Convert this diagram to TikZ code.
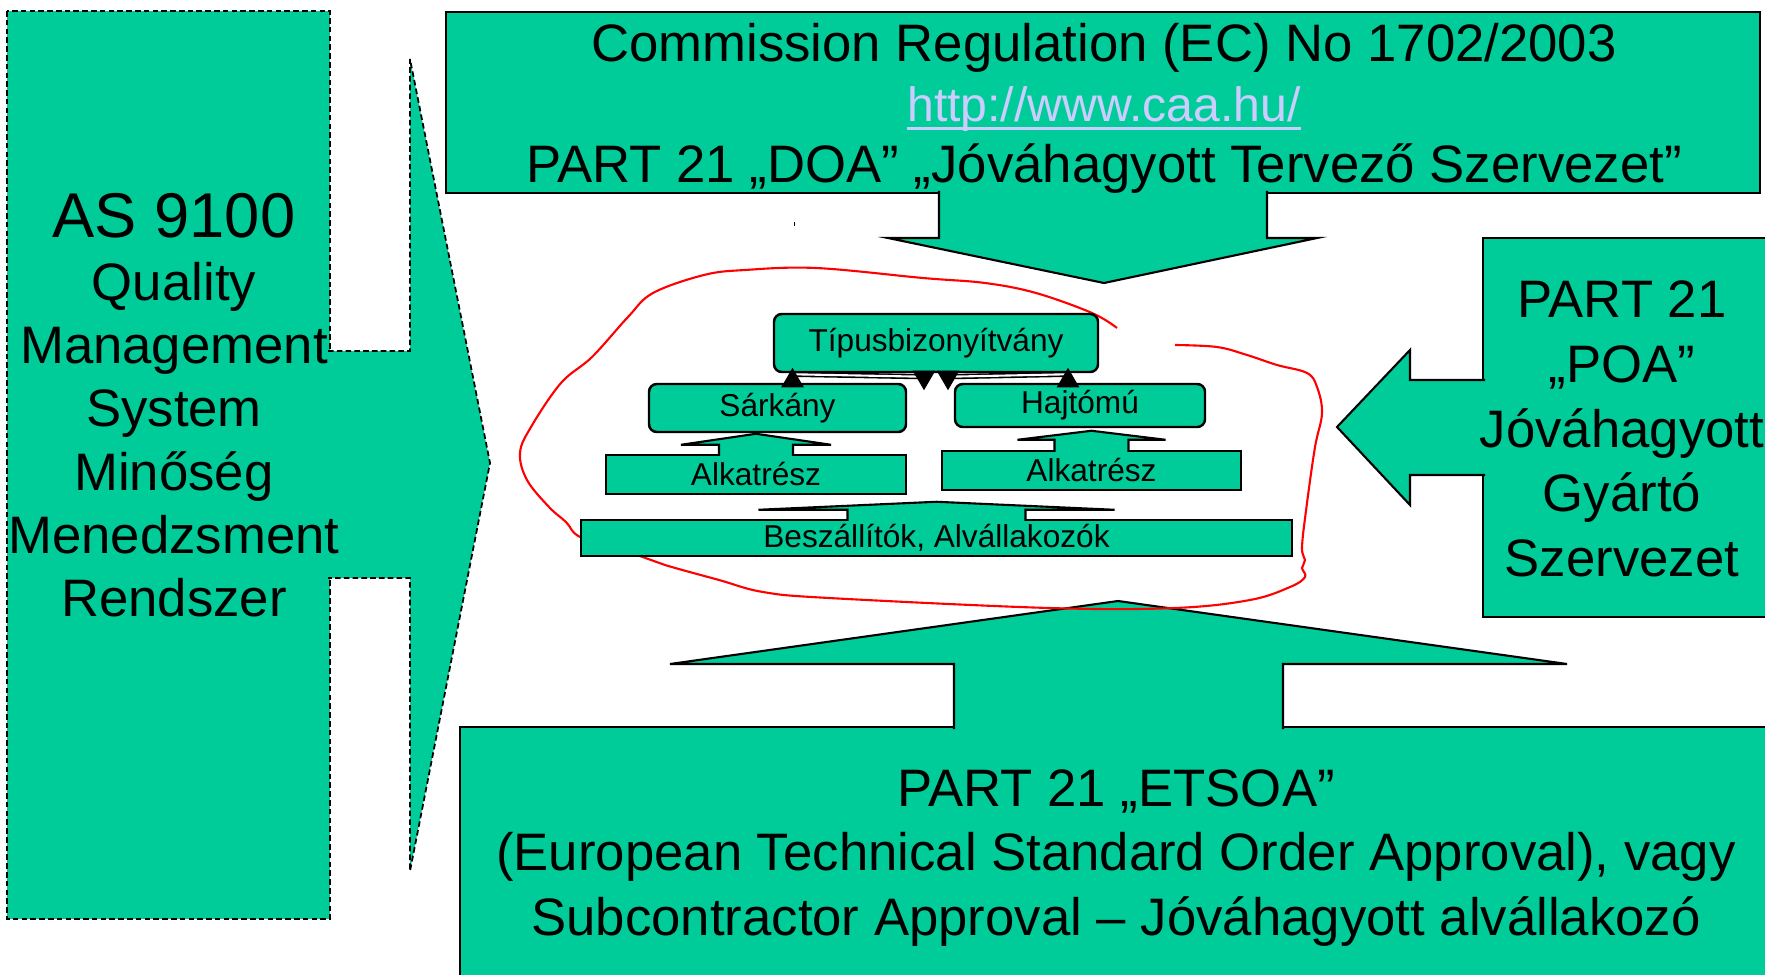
\documentclass[tikz,border=0pt]{standalone}
\usepackage{fontspec}
\setmainfont{Liberation Sans}
\usetikzlibrary{arrows.meta,calc}
\definecolor{pgreen}{HTML}{00CC99}
\definecolor{linkcol}{HTML}{CCCCFF}
\newcommand\weblink[1]{\setbox0\hbox{#1}\rlap{\rule[-2.4pt]{\wd0}{0.8pt}}\box0}

\begin{document}
\begin{tikzpicture}[x=0.1mm,y=-0.1mm,
    bigbox/.style={draw,fill=pgreen,line width=0.6pt},
    qmsline/.style={draw,fill=pgreen,line width=0.5pt,dash pattern=on 1.6pt off 0.9pt},
    lbl/.style={align=center,font=\fontsize{15}{18}\selectfont},
    roundbox/.style={draw,fill=pgreen,line width=0.7pt,rounded corners=2.2pt,inner sep=0pt,font=\fontsize{9}{11}\selectfont},
    partbox/.style={draw,fill=pgreen,line width=0.7pt,inner sep=0pt,font=\fontsize{9}{11}\selectfont},
    blockarrow/.style={draw,fill=pgreen,line width=0.6pt},
    link/.style={draw=black,double=white,line width=0.45pt,double distance=0.6pt,
      {Triangle[length=5.6pt,width=6.4pt]}-{Triangle[length=5.6pt,width=6.4pt]}},
    redline/.style={red,line width=0.6pt}]
\useasboundingbox (0,0) rectangle (1765,975);

% AS 9100 box with its arrow
\draw[qmsline] (7,11) rectangle (330,919);
\draw[qmsline] (328,351) -- (410,351) -- (410,59) -- (490,463) -- (410,871) -- (410,578) -- (328,578);

% DOA
\draw[bigbox] (446,12) rectangle (1760,193);
\draw[bigbox] (939,191) -- (939,238) -- (888,238) -- (1104,283) -- (1317,238) -- (1267,238) -- (1267,191);

% POA
\draw[bigbox] (1483,238) rectangle (1780,617);
\draw[bigbox] (1485,380) -- (1410,380) -- (1410,350) -- (1337,427) -- (1410,505) -- (1410,475) -- (1485,475);

% ETSOA
\draw[bigbox] (460,727) rectangle (1780,990);
\draw[bigbox] (954,729) -- (954,664) -- (670,664) -- (1118,601) -- (1567,664) -- (1283,664) -- (1283,729);

\node[lbl] (qms) at (174,405) {{\fontsize{18}{21}\selectfont AS 9100}\\ Quality\\ Management\\ System\\ Minőség\\ Menedzsment\\ Rendszer};
\node[lbl,font=\fontsize{15}{17.2}\selectfont] (doa) at (1104,108) {Commission Regulation (EC) No 1702/2003\\ {\fontsize{13.7}{17.2}\selectfont\color{linkcol}\weblink{http://www.caa.hu/}}\\ PART 21 „DOA” „Jóváhagyott Tervező Szervezet”};
\node[lbl,font=\fontsize{15}{18.4}\selectfont] (poa) at (1622,429) {PART 21\\ „POA”\\ Jóváhagyott\\ Gyártó\\ Szervezet};
\node[lbl,font=\fontsize{15}{18.3}\selectfont] (etsoa) at (1116,858) {PART 21 „ETSOA”\\ (European Technical Standard Order Approval), vagy\\ Subcontractor Approval – Jóváhagyott alvállakozó};

\fill (793.5,222) rectangle (795,226);

% hand drawn ring
\draw[redline] plot[smooth,tension=0.6] coordinates {(1117,328) (1092,313) (1036,293) (985,283) (923,278) (816,268) (745,270) (704,275) (653,293) (628,317) (592,357) (561,383) (531,427) (520,453) (527,480) (549,507) (566,522) (582,538) (637,555) (665,565) (719,580) (763,592) (829,598) (1049,608) (1175,608) (1250,600) (1290,587) (1305,577) (1302,568) (1305,560) (1302,547) (1307,503) (1315,447) (1322,413) (1317,387) (1307,373) (1277,365) (1247,355) (1217,347) (1175,345)};

% type certificate tree
\node[roundbox,minimum width=32.4mm,minimum height=5.8mm] (tipus) at (936,343) {Típusbizonyítvány};
\node[roundbox,minimum width=25.7mm,minimum height=4.8mm] (sarkany) at (777.5,408) {Sárkány};
\node[roundbox,minimum width=25mm,minimum height=4.3mm] (hajtomu) at (1080,405.5) {Hajtómú};
\node[partbox,minimum width=30mm,minimum height=3.9mm] (alk1) at (756,474.5) {Alkatrész};
\node[partbox,minimum width=29.9mm,minimum height=3.9mm] (alk2) at (1091.5,470.5) {Alkatrész};
\node[partbox,minimum width=71.1mm,minimum height=3.6mm] (besz) at (936.5,538) {Beszállítók, Alvállakozók};

\foreach \src/\sh/\hh/\sl/\hl in {alk1/37/75/9/11, alk2/37/74/10/9, besz/89/178/9/8}
  \draw[blockarrow] (\src.north) ++(-\sh,2) -- ++(0,{-\sl-2}) -- ++({\sh-\hh},0) -- ++(\hh,-\hl) -- ++(\hh,\hl) -- ++({\sh-\hh},0) -- ++(0,{\sl+2});

\draw[link] ($(tipus.south)+(-12,17)$) -- ++(0,-13.5) -- ($(sarkany.north)+(15,-8.5)$) -- ($(sarkany.north)+(15,-15)$);
\draw[link] ($(tipus.south)+(12,17)$) -- ++(0,-13.5) -- ($(hajtomu.north)+(-12,-8.5)$) -- ($(hajtomu.north)+(-12,-15)$);
\end{tikzpicture}
\end{document}
